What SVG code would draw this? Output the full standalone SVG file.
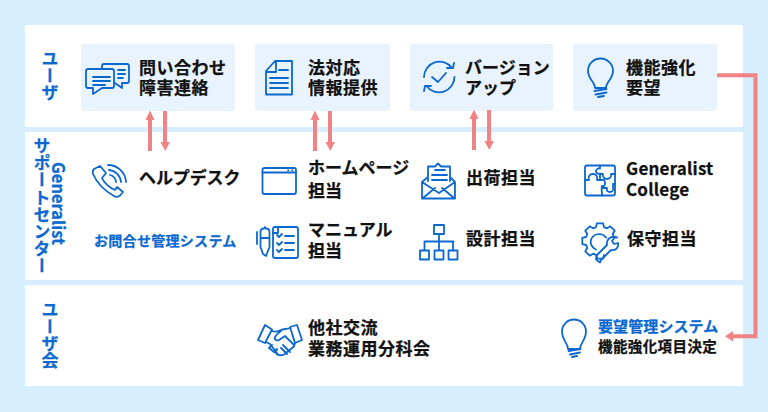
<svg xmlns="http://www.w3.org/2000/svg" width="768" height="412" viewBox="0 0 768 412">
<style>
.t{font-family:"Noto Sans CJK JP","Noto Sans",sans-serif;font-weight:700;font-size:17px;letter-spacing:.5px;fill:#111;stroke:#111;stroke-width:.25px}
.b{fill:#0a68cf;stroke:#0a68cf}
.k{letter-spacing:0}
.l{font-family:"Noto Sans CJK JP","Noto Sans",sans-serif;font-weight:700;font-size:17px;fill:#0a68cf;stroke:#0a68cf;stroke-width:.25px;writing-mode:vertical-rl}
.i{fill:none;stroke:#0a68cf;stroke-width:1.8;stroke-linejoin:round;stroke-linecap:round}
.box{fill:#e9f3fd}
.c{fill:none;stroke:#f08484;stroke-width:4}
.h{fill:#f08484}
</style>
<rect width="768" height="412" fill="#d6eeff"/>
<g id="panels" fill="#fff">
<rect x="25" y="25" width="718" height="102"/>
<rect x="25" y="132" width="718" height="148"/>
<rect x="25" y="285" width="718" height="101"/>
</g>
<g id="label-user"><text class="l" x="50" y="50">ユーザ</text></g>
<g id="label-center"><text class="l" x="42" y="137" style="letter-spacing:.2px">サポートセンター</text><text class="l" x="59" y="162" style="font-size:16.500px">Generalist</text></g>
<g id="label-usergroup"><text class="l" x="50" y="301">ユーザ会</text></g>

<g id="n-inquiry"><rect class="box" x="81" y="44" width="154" height="67" rx="3"/>
<path class="i" d="M88 69h24a2 2 0 0 1 2 2v15a2 2 0 0 1-2 2h-10l-9 6v-6h-5a2 2 0 0 1-2-2v-15a2 2 0 0 1 2-2zM93 77h17M93 81h17M93 85h12"/>
<path class="i" d="M102 68v-2a2 2 0 0 1 2-2h23a2 2 0 0 1 2 2v15a2 2 0 0 1-2 2h-5v5l-7-5M118 70h7M118 74h7M118 78h5"/>
<text class="t"><tspan x="139" y="73.500">問い合わせ</tspan><tspan x="139" y="94">障害連絡</tspan></text></g>

<g id="n-law"><rect class="box" x="255" y="44" width="135" height="67" rx="3"/>
<path class="i" d="M275 61h17v33.500h-26v-23.500zM276 61v11h-10M279 70h9M270 78h18M270 83h18M270 88h18"/>
<text class="t"><tspan x="308" y="73.500">法対応</tspan><tspan x="308" y="94">情報提供</tspan></text></g>

<g id="n-version"><rect class="box" x="410" y="44" width="143" height="67" rx="3"/>
<path class="i" d="M424 77a15.500 15.500 0 0 1 28-9M454.500 77a15.500 15.500 0 0 1-28 9M447 68h6l1-5M431 86h-6l-1 5M432 77l6 5 8-9"/>
<text class="t k"><tspan x="465" y="73.500">バージョン</tspan><tspan x="465" y="94">アップ</tspan></text></g>

<g id="n-feature"><rect class="box" x="573" y="44" width="144" height="67" rx="3"/>
<path class="i" d="M595 88c0-6-7-9-7-17a12.500 12.500 0 0 1 25 0c0 8-7 11-7 17zM594.500 91l12-2M595.500 94.500l11-2M598 97l6-1"/>
<text class="t"><tspan x="626" y="73.500">機能強化</tspan><tspan x="626" y="94">要望</tspan></text></g>

<g id="connectors">
<path class="c" d="M150 151v-33M165 111v33M315 151v-33M330 111v33M474 150v-33M489 110v33"/>
<path class="c" d="M717 75.300h38.500v261h-24"/>
<path class="h" d="M145.500 120l4.500-9.500 4.500 9.500zM160.500 142h9.500l-4.750 9zM310.500 120l4.500-9.500 4.500 9.500zM325.500 142h9.500l-4.750 9zM469.500 119l4.500-9.500 4.500 9.500zM484.500 141h9.500l-4.750 9zM733 331v10.500l-8-5.200z"/>
</g>

<g id="n-helpdesk">
<path class="i" d="M100 166l6 7-4 5c2 5 8 10 13 12l2-3 6 5-3 3.500c-2 1.500-4 2-6 .5-9-5-17-13-21-22-.5-2 0-4 1-5z"/>
<path class="i" d="M110 175a8 8 0 0 1 6 7M109 170a13 13 0 0 1 12 12M108 165a18 18 0 0 1 18 17"/>
<text class="t k" x="139" y="184" style="letter-spacing:-.1px">ヘルプデスク</text></g>

<g id="n-homepage">
<rect class="i" x="262.500" y="168" width="33.500" height="26" rx="2"/><path class="i" d="M262.500 172.500h33.500M288 170.300h.5M292 170.300h.5"/>
<text class="t k"><tspan x="308" y="174">ホームページ</tspan><tspan x="308" y="196.500">担当</tspan></text></g>

<g id="n-shipping">
<path class="i" d="M428 181v-14.500h7l3-3 3 3h9v14.500M428 177l-6 5v16.500h33v-16.500l-5-5M422 182l17 11 16-11M423 198l12-10M454 198l-12-10M435 170h10M432 175h15M432 180h15"/>
<text class="t" x="466" y="184">出荷担当</text></g>

<g id="n-college">
<rect class="i" x="585" y="165.500" width="30" height="30" rx="2"/>
<path class="i" d="M585 180h4c-1.500-4 1-6 4-6s5 2 4 6h5c2-1 3 1 3 3s-1 4-3 3c-1 2 0 4 0 9.500M600 165.500v3c-3-1-4 2-4 3s2 3 4 2v6M600 174h3c-1 3 2 5 4 5s5-2 4-5h4M603 188h4c-1 3 1 4 3 4s4-2 3-4v-4h2"/>
<text class="t" x="626" y="175" style="letter-spacing:.2px">Generalist</text><text class="t" x="626" y="196" style="letter-spacing:.2px">College</text></g>

<g id="n-inquiry-system"><text class="t b" x="94" y="246" style="font-size:14px;letter-spacing:.3px">お問合せ管理システム</text></g>

<g id="n-manual">
<path class="i" d="M260.500 238v-6c0-5 9-5 9 0v15l-3.500 9-3-2-2.500-7zM260.500 238h9M265 228v-1M257 232v12"/>
<rect class="i" x="273" y="227" width="25" height="31" rx="2"/>
<path class="i" d="M278 227v6h-5"/>
<path class="i" d="M277 235l2 2 3-3M285 236h9M277 243l2 2 3-3M285 243h9M277 250l2 2 3-3M285 250h9"/>
<text class="t k"><tspan x="308" y="236">マニュアル</tspan><tspan x="308" y="257">担当</tspan></text></g>

<g id="n-design">
<path class="i" d="M439 234v16M424.500 241.500h29M424.500 241.500v8.500M453 241.500v8.500"/>
<rect class="i" x="434" y="225" width="10" height="9"/><rect class="i" x="420" y="250.500" width="9" height="9"/><rect class="i" x="434.500" y="250.500" width="9" height="9"/><rect class="i" x="448.500" y="250.500" width="9" height="9"/>
<text class="t" x="466" y="244.500">設計担当</text></g>

<g id="n-maintenance">
<path class="i" d="M604 255l-.9 3.700h-6.200l-.9-3.800-3 -1.200-3.300 2-4.400-4.400 2-3.300-1.200-3-3.800-.9v-6.200l3.800-.9 1.200-3-2-3.300 4.400-4.400 3.300 2 3-1.200.9-3.800h6.200l.9 3.800 3 1.200 3.300-2 4.400 4.400-2 3.300 1.200 3 3.200 .5"/>
<path class="i" d="M596 249.500c-5-2-6-7-5-10 2-5 7-6 11-5 2 .5 3 2 4 3"/>
<path class="i" d="M597 255l10-10c-1-5 3-9 8-8l-3 4 2 3 4-1c1 5-3 8-7 7l-10 10-1 2.500-4-3z"/>
<text class="t" x="627" y="244.500">保守担当</text></g>

<g id="n-exchange">
<path class="i" d="M258 340l7-15 7 4.500-7 13.500zM302 340l-5-15-7 2 5 16z"/>
<path class="i" d="M272 331c3 1 6 1 9-1 3-1 6-1 9-2M266 342l4 2 8 10.500c2 1 4 1 6 0l10-8 1-3.500M281 331c-3 2-5 4-6 6-1 3 2 4 4 3l6-4 9 9M290 352l-7-7M287 354l-6-6M272 345l-3 3 5 4 3-3M277 350l-2 2 3 3"/>
<text class="t"><tspan x="308" y="333.500">他社交流</tspan><tspan x="308" y="354.500">業務運用分科会</tspan></text></g>

<g id="n-request-system">
<path class="i" d="M568 349c0-6-6-9-6-17.500a12 12 0 0 1 24 0c0 8.500-6 11.500-6 17.500zM568.500 351l12-2M570 354.500l10-2M572 357l5-1"/>
<text class="t b" x="598" y="332" style="font-size:15px;letter-spacing:.1px">要望管理システム</text><text class="t" x="598" y="351.500" style="font-size:14.500px;letter-spacing:.4px">機能強化項目決定</text></g>
</svg>
